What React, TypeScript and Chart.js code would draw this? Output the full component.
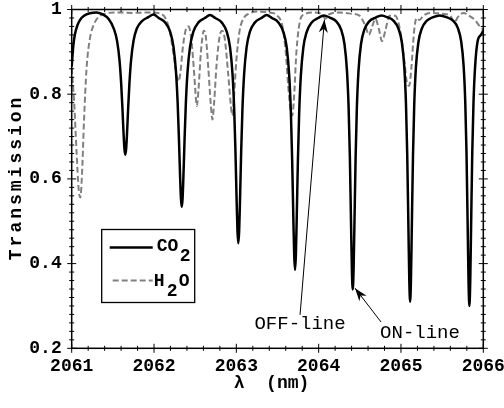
import React, { useEffect, useRef } from 'react';
import { Chart, registerables } from 'chart.js';

Chart.register(...registerables);

// ---- data ----
const CO2_WL = [
  2061.000, 2061.020, 2061.040, 2061.070, 2061.100, 2061.150, 2061.220, 2061.300,
  2061.371, 2061.451, 2061.511, 2061.551, 2061.581, 2061.601, 2061.616, 2061.631, 2061.641, 2061.651,
  2061.661, 2061.671, 2061.686, 2061.701, 2061.721, 2061.751, 2061.791, 2061.851, 2061.931,
  2061.994,
  2062.057, 2062.137, 2062.197, 2062.237, 2062.267, 2062.287, 2062.302, 2062.317, 2062.327, 2062.337,
  2062.347, 2062.357, 2062.372, 2062.387, 2062.407, 2062.437, 2062.477, 2062.537, 2062.617,
  2062.680,
  2062.744, 2062.824, 2062.884, 2062.924, 2062.954, 2062.974, 2062.989, 2063.004, 2063.014, 2063.024,
  2063.034, 2063.044, 2063.059, 2063.074, 2063.094, 2063.124, 2063.164, 2063.224, 2063.304,
  2063.368,
  2063.433, 2063.513, 2063.573, 2063.613, 2063.643, 2063.663, 2063.678, 2063.693, 2063.703, 2063.713,
  2063.723, 2063.733, 2063.748, 2063.763, 2063.783, 2063.813, 2063.853, 2063.913, 2063.993,
  2064.063,
  2064.134, 2064.214, 2064.274, 2064.314, 2064.344, 2064.364, 2064.379, 2064.394, 2064.404, 2064.414,
  2064.424, 2064.434, 2064.449, 2064.464, 2064.484, 2064.514, 2064.554, 2064.614, 2064.694,
  2064.762,
  2064.831, 2064.911, 2064.971, 2065.011, 2065.041, 2065.061, 2065.076, 2065.091, 2065.101, 2065.111,
  2065.121, 2065.131, 2065.146, 2065.161, 2065.181, 2065.211, 2065.251, 2065.311, 2065.391,
  2065.471,
  2065.551, 2065.631, 2065.691, 2065.731, 2065.761, 2065.781, 2065.796, 2065.811, 2065.821, 2065.831,
  2065.841, 2065.851, 2065.866, 2065.881, 2065.901, 2065.931, 2065.971, 2066.000,
];
const CO2_T = [
  0.865, 0.915, 0.942, 0.963, 0.975, 0.985, 0.991, 0.993,
  0.989, 0.977, 0.955, 0.926, 0.880, 0.825, 0.768, 0.703, 0.670, 0.657,
  0.670, 0.703, 0.768, 0.825, 0.880, 0.926, 0.955, 0.972, 0.982,
  0.988,
  0.980, 0.969, 0.947, 0.911, 0.852, 0.780, 0.699, 0.605, 0.554, 0.534,
  0.554, 0.605, 0.699, 0.780, 0.852, 0.911, 0.947, 0.969, 0.980,
  0.987,
  0.980, 0.969, 0.947, 0.910, 0.846, 0.764, 0.667, 0.545, 0.476, 0.448,
  0.476, 0.545, 0.667, 0.764, 0.846, 0.910, 0.947, 0.969, 0.980,
  0.987,
  0.980, 0.969, 0.946, 0.909, 0.842, 0.754, 0.645, 0.503, 0.419, 0.385,
  0.419, 0.503, 0.645, 0.754, 0.842, 0.909, 0.946, 0.969, 0.980,
  0.986,
  0.981, 0.972, 0.952, 0.918, 0.855, 0.768, 0.652, 0.487, 0.383, 0.339,
  0.383, 0.487, 0.652, 0.768, 0.855, 0.918, 0.952, 0.972, 0.981,
  0.986,
  0.982, 0.973, 0.954, 0.922, 0.862, 0.775, 0.656, 0.478, 0.360, 0.310,
  0.360, 0.478, 0.656, 0.775, 0.862, 0.922, 0.954, 0.973, 0.982,
  0.986,
  0.982, 0.974, 0.956, 0.925, 0.867, 0.781, 0.662, 0.478, 0.354, 0.300,
  0.354, 0.478, 0.662, 0.781, 0.867, 0.925, 0.940, 0.950,
];

const H2O_WL = [
  2061.000, 2061.030, 2061.060, 2061.085, 2061.105, 2061.125, 2061.150, 2061.180, 2061.220, 2061.270,
  2061.330, 2061.400, 2061.550, 2061.750, 2061.950, 2062.080, 2062.150, 2062.200, 2062.240, 2062.270,
  2062.295, 2062.320, 2062.350, 2062.390, 2062.420, 2062.450, 2062.480, 2062.505, 2062.520, 2062.540,
  2062.570, 2062.605, 2062.630, 2062.660, 2062.690, 2062.710, 2062.730, 2062.760, 2062.800, 2062.830,
  2062.860, 2062.900, 2062.930, 2062.950, 2062.970, 2063.000, 2063.040, 2063.090, 2063.150, 2063.250,
  2063.400, 2063.500, 2063.560, 2063.600, 2063.630, 2063.660, 2063.680, 2063.700, 2063.730, 2063.770,
  2063.820, 2063.950, 2064.040, 2064.080, 2064.120, 2064.250, 2064.400, 2064.500, 2064.570, 2064.610,
  2064.650, 2064.690, 2064.730, 2064.770, 2064.810, 2064.860, 2064.930, 2064.990, 2065.040, 2065.075,
  2065.100, 2065.125, 2065.160, 2065.190, 2065.225, 2065.270, 2065.350, 2065.500, 2065.600, 2065.650,
  2065.690, 2065.760, 2065.830, 2065.900, 2065.950, 2066.000,
];
const H2O_T = [
  0.862, 0.780, 0.660, 0.575, 0.556, 0.610, 0.740, 0.860, 0.930, 0.965,
  0.983, 0.990, 0.993, 0.992, 0.993, 0.990, 0.975, 0.940, 0.890, 0.850,
  0.830, 0.850, 0.910, 0.955, 0.960, 0.935, 0.870, 0.800, 0.772, 0.810,
  0.900, 0.950, 0.935, 0.860, 0.775, 0.740, 0.780, 0.870, 0.940, 0.950,
  0.930, 0.850, 0.780, 0.750, 0.790, 0.880, 0.950, 0.980, 0.990, 0.995,
  0.993, 0.985, 0.960, 0.900, 0.820, 0.760, 0.750, 0.790, 0.900, 0.970,
  0.988, 0.993, 0.988, 0.978, 0.988, 0.993, 0.990, 0.985, 0.960, 0.940,
  0.960, 0.978, 0.955, 0.925, 0.950, 0.985, 0.985, 0.950, 0.880, 0.825,
  0.820, 0.860, 0.950, 0.980, 0.975, 0.985, 0.992, 0.990, 0.985, 0.970,
  0.982, 0.992, 0.985, 0.975, 0.962, 0.952,
];

const X_TICKS = [2061, 2062, 2063, 2064, 2065, 2066];
const Y_TICKS = [0.2, 0.4, 0.6, 0.8, 1];
const Y_TICK_LABELS = ['0.2', '0.4', '0.6', '0.8', '1'];
const SERIES_LABELS = ['CO', 'H'];

// annotation anchors in data units [wavelength, transmission]
const OFF_TIP = [2064.07, 0.976];
const OFF_TAIL = [2063.774, 0.279];
const OFF_TEXT = [2063.774, 0.258];
const ON_TIP = [2064.442, 0.342];
const ON_TAIL = [2064.758, 0.262];
const ON_TEXT = [2065.231, 0.236];

const MONO = '"Liberation Mono", "DejaVu Sans Mono", monospace';

function drawArrow(ctx: CanvasRenderingContext2D, x1: number, y1: number, x2: number, y2: number) {
  ctx.beginPath();
  ctx.moveTo(x1, y1);
  ctx.lineTo(x2, y2);
  ctx.stroke();
  const ang = Math.atan2(y2 - y1, x2 - x1);
  const L = 13, W = 4.5;
  const bx = x2 - L * Math.cos(ang), by = y2 - L * Math.sin(ang);
  ctx.beginPath();
  ctx.moveTo(x2, y2);
  ctx.lineTo(bx + W * Math.sin(ang), by - W * Math.cos(ang));
  ctx.lineTo(x2 - 0.7 * L * Math.cos(ang), y2 - 0.7 * L * Math.sin(ang));
  ctx.lineTo(bx - W * Math.sin(ang), by + W * Math.cos(ang));
  ctx.closePath();
  ctx.fill();
}

const decorPlugin = {
  id: 'decor',
  afterDraw(chart: any) {
    const { ctx, chartArea: a, scales } = chart;
    const x = scales.x, y = scales.y;
    ctx.save();
    // frame
    ctx.strokeStyle = '#000';
    ctx.lineWidth = 1.5;
    ctx.strokeRect(a.left, a.top, a.right - a.left, a.bottom - a.top);
    // ticks on all four sides
    ctx.lineWidth = 1;
    const seg = (x1: number, y1: number, x2: number, y2: number) => {
      ctx.beginPath(); ctx.moveTo(x1, y1); ctx.lineTo(x2, y2); ctx.stroke();
    };
    for (let i = 0; i <= 25; i++) {
      const px = x.getPixelForValue(X_TICKS[0] + i * 0.2);
      const len = i % 5 === 0 ? 4.5 : 2.5;
      seg(px, a.bottom - len, px, a.bottom + len);
      seg(px, a.top - len, px, a.top + len);
    }
    for (let i = 0; i <= 40; i++) {
      const py = y.getPixelForValue(Y_TICKS[0] + i * 0.02);
      const len = i % 10 === 0 ? 4.5 : 2.5;
      seg(a.left - len, py, a.left + len, py);
      seg(a.right - len, py, a.right + len, py);
    }
    // axis titles
    ctx.fillStyle = '#000';
    ctx.font = `bold 18px ${MONO}`;
    ctx.textAlign = 'center';
    ctx.textBaseline = 'middle';
    ctx.fillText('λ  (nm)', (a.left + a.right) / 2 - 6, 383);
    ctx.save();
    ctx.translate(16, (a.top + a.bottom) / 2);
    ctx.rotate(-Math.PI / 2);
    (ctx as any).letterSpacing = '3px';
    ctx.fillText('Transmission', 1.5, 0);
    ctx.restore();
    // legend
    const lx = a.left + 30, ly = a.top + 220;
    ctx.fillStyle = '#fff';
    ctx.fillRect(lx, ly, 93, 73);
    ctx.strokeStyle = '#000';
    ctx.lineWidth = 1.3;
    ctx.strokeRect(lx, ly, 93, 73);
    ctx.lineWidth = 2.4;
    seg(lx + 8, ly + 18, lx + 51, ly + 18);
    ctx.strokeStyle = '#808080';
    ctx.lineWidth = 2;
    ctx.setLineDash([6, 3]);
    seg(lx + 11, ly + 51, lx + 51, ly + 51);
    ctx.setLineDash([]);
    ctx.fillStyle = '#000';
    ctx.font = `bold 18px ${MONO}`;
    ctx.textAlign = 'left';
    ctx.textBaseline = 'alphabetic';
    ctx.fillText(SERIES_LABELS[0], lx + 55, ly + 21);
    ctx.fillText('2', lx + 78, ly + 31);
    ctx.fillText(SERIES_LABELS[1], lx + 52, ly + 56);
    ctx.fillText('2', lx + 65, ly + 66);
    ctx.fillText('O', lx + 77, ly + 56);
    // annotations
    ctx.strokeStyle = '#000';
    ctx.fillStyle = '#000';
    ctx.lineWidth = 1;
    drawArrow(ctx, x.getPixelForValue(OFF_TAIL[0]), y.getPixelForValue(OFF_TAIL[1]),
      x.getPixelForValue(OFF_TIP[0]), y.getPixelForValue(OFF_TIP[1]));
    drawArrow(ctx, x.getPixelForValue(ON_TAIL[0]), y.getPixelForValue(ON_TAIL[1]),
      x.getPixelForValue(ON_TIP[0]), y.getPixelForValue(ON_TIP[1]));
    ctx.font = `19px ${MONO}`;
    ctx.textAlign = 'center';
    ctx.textBaseline = 'middle';
    ctx.fillText('OFF-line', x.getPixelForValue(OFF_TEXT[0]), y.getPixelForValue(OFF_TEXT[1]));
    ctx.fillText('ON-line', x.getPixelForValue(ON_TEXT[0]), y.getPixelForValue(ON_TEXT[1]));
    ctx.restore();
  },
};

export default function App() {
  const ref = useRef<HTMLCanvasElement | null>(null);
  useEffect(() => {
    if (!ref.current) return;
    const co2 = CO2_WL.map((w, i) => ({ x: w, y: CO2_T[i] }));
    const h2o = H2O_WL.map((w, i) => ({ x: w, y: H2O_T[i] }));
    const tickFont = { family: MONO, size: 18, weight: 'bold' as const, lineHeight: 1 };
    const chart = new Chart(ref.current, {
      type: 'line',
      data: {
        datasets: [
          {
            label: 'CO2',
            data: co2,
            borderColor: '#000',
            borderWidth: 2.5,
            pointRadius: 0,
            cubicInterpolationMode: 'monotone',
            fill: false,
          },
          {
            label: 'H2O',
            data: h2o,
            borderColor: '#808080',
            borderWidth: 2,
            borderDash: [6, 3],
            pointRadius: 0,
            cubicInterpolationMode: 'monotone',
            fill: false,
          },
        ],
      },
      options: {
        responsive: false,
        animation: false,
        devicePixelRatio: 1,
        layout: { padding: { left: 0, top: 9.5, right: 20.7, bottom: 0 } },
        plugins: { legend: { display: false }, tooltip: { enabled: false } },
        scales: {
          x: {
            type: 'linear',
            min: 2061,
            max: 2066,
            afterBuildTicks: (s: any) => { s.ticks = X_TICKS.map((v) => ({ value: v })); },
            afterFit: (s: any) => {
              s.height = 59.7;
              s.paddingLeft = 0; s.paddingRight = 0; s.paddingTop = 0; s.paddingBottom = 0;
            },
            ticks: {
              font: tickFont,
              color: '#000',
              padding: 9,
              maxRotation: 0,
              autoSkip: false,
              callback: (v: any) => String(v),
            },
            grid: { display: false, drawTicks: false },
            border: { display: false },
          },
          y: {
            type: 'linear',
            min: 0.2,
            max: 1,
            afterBuildTicks: (s: any) => { s.ticks = Y_TICKS.map((v) => ({ value: v })); },
            afterFit: (s: any) => {
              s.width = 71.7;
              s.paddingLeft = 0; s.paddingRight = 0; s.paddingTop = 0; s.paddingBottom = 0;
            },
            ticks: {
              font: tickFont,
              color: '#000',
              padding: 10,
              autoSkip: false,
              callback: (v: any) => {
                const i = Y_TICKS.findIndex((t) => Math.abs(t - v) < 1e-6);
                return i >= 0 ? Y_TICK_LABELS[i] : '';
              },
            },
            grid: { display: false, drawTicks: false },
            border: { display: false },
          },
        },
      },
      plugins: [decorPlugin],
    });
    return () => chart.destroy();
  }, []);
  return (
    <div style={{ position: 'absolute', left: 0, top: 0, width: 504, height: 408, background: '#fff' }}>
      <canvas ref={ref} width={504} height={408} style={{ display: 'block' }} />
    </div>
  );
}
